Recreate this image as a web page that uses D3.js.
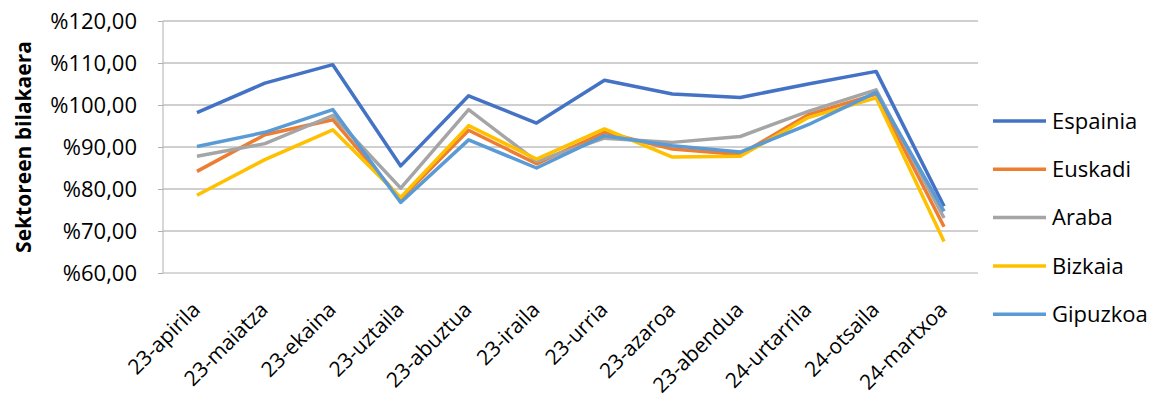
<!DOCTYPE html>
<html>
<head>
<meta charset="utf-8">
<script src="https://cdn.jsdelivr.net/npm/d3@7"></script>
<style>
  body { margin: 0; background: #fff; }
  svg text { font-family: "Open Sans", Lato, sans-serif; fill: #000; }
</style>
</head>
<body>
<svg id="chart" width="1156" height="401"></svg>
<script>
// hilabeteak
var months = ['23-apirila', '23-maiatza', '23-ekaina', '23-uztaila', '23-abuztua', '23-iraila',
    '23-urria', '23-azaroa', '23-abendua', '24-urtarrila', '24-otsaila', '24-martxoa'];
var seriesNames = ['Espainia', 'Euskadi', 'Araba', 'Bizkaia', 'Gipuzkoa'];
var seriesColors = ['#4472C4', '#ED7D31', '#A5A5A5', '#FFC000', '#5B9BD5'];

var espainia = [98.2, 105.2, 109.6, 85.5, 102.2, 95.7, 105.9, 102.6, 101.8, 105.0, 108.0, 75.9];
var euskadi  = [84.2, 92.9, 96.5, 77.6, 94.0, 86.0, 93.5, 89.5, 88.2, 97.7, 102.6, 71.0];
var araba    = [87.8, 90.8, 97.5, 80.2, 98.9, 86.6, 92.1, 91.1, 92.5, 98.5, 103.6, 73.1];
var bizkaia  = [78.5, 87.0, 94.1, 78.0, 95.1, 87.1, 94.3, 87.6, 87.8, 97.0, 101.7, 67.5];
var gipuzkoa = [90.1, 93.5, 98.9, 76.8, 91.7, 85.0, 92.7, 90.3, 88.8, 95.3, 103.0, 74.7];

var yTicks = [60, 70, 80, 90, 100, 110, 120];
var allSeries = [espainia, euskadi, araba, bizkaia, gipuzkoa];

var svg = d3.select('#chart');
var plotLeft = 163, plotRight = 978, plotTop = 21, plotBottom = 273;

var x = d3.scalePoint().domain(months).range([plotLeft, plotRight]).padding(0.5);
var y = d3.scaleLinear().domain([60, 120]).range([plotBottom, plotTop]);

// sareta
svg.append('g')
    .selectAll('line')
    .data(yTicks.slice(1))
    .enter().append('line')
    .attr('x1', plotLeft).attr('x2', plotRight)
    .attr('y1', function (d) { return y(d); })
    .attr('y2', function (d) { return y(d); })
    .attr('stroke', '#a0a0a0').attr('stroke-width', 1);

// ardatzak
var yAxis = svg.append('g')
    .attr('transform', 'translate(' + plotLeft + ',0)')
    .call(d3.axisLeft(y).tickValues(yTicks).tickSize(5).tickPadding(21)
        .tickFormat(function (d) { return '%' + d3.format('.2f')(d).replace('.', ','); }));
yAxis.select('.domain').attr('stroke', '#b0b0b0').attr('d', 'M0,' + plotTop + 'V' + plotBottom);
yAxis.selectAll('.tick line').attr('stroke', '#b0b0b0');
yAxis.selectAll('.tick text').attr('font-size', 22);

var xAxis = svg.append('g')
    .attr('transform', 'translate(0,' + plotBottom + ')')
    .call(d3.axisBottom(x).tickSize(0).tickPadding(0));
xAxis.select('.domain').attr('stroke', '#b0b0b0').attr('d', 'M' + plotLeft + ',0H' + plotRight);
xAxis.selectAll('.tick text')
    .attr('font-size', 21)
    .attr('text-anchor', 'end')
    .attr('dy', null)
    .attr('transform', 'translate(4,38) rotate(-45)');

// ardatzaren izenburua
svg.append('text')
    .attr('transform', 'translate(31,' + ((plotTop + plotBottom) / 2) + ') rotate(-90)')
    .attr('text-anchor', 'middle')
    .attr('font-size', 21)
    .attr('font-weight', 'bold')
    .text('Sektoreen bilakaera');

// lerroak
var line = d3.line()
    .x(function (d, i) { return x(months[i]); })
    .y(function (d) { return y(d); });

svg.append('g')
    .selectAll('path')
    .data(allSeries)
    .enter().append('path')
    .attr('d', line)
    .attr('fill', 'none')
    .attr('stroke', function (d, i) { return seriesColors[i]; })
    .attr('stroke-width', 3.5)
    .attr('stroke-linejoin', 'round');

// legenda
var legend = svg.append('g')
    .selectAll('g')
    .data(seriesNames)
    .enter().append('g')
    .attr('transform', function (d, i) { return 'translate(993,' + (121 + i * 48.3) + ')'; });
legend.append('line')
    .attr('x1', 0).attr('x2', 53)
    .attr('stroke', function (d, i) { return seriesColors[i]; })
    .attr('stroke-width', 3.5);
legend.append('text')
    .attr('x', 59).attr('dy', '0.35em')
    .attr('font-size', 22)
    .text(function (d) { return d; });
</script>
</body>
</html>
